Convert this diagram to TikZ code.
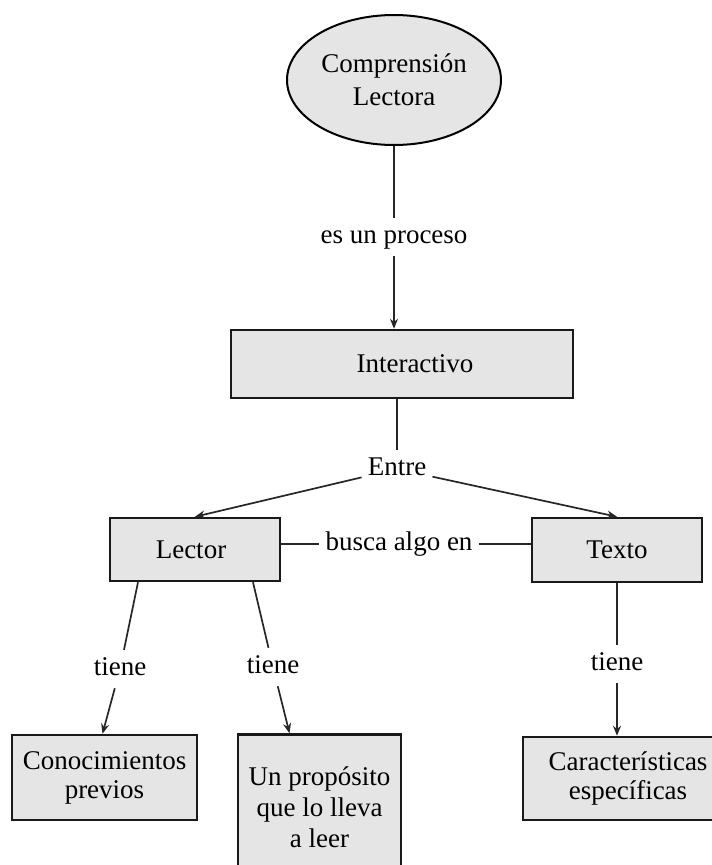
\documentclass[tikz,border=0pt]{standalone}
\usepackage{fontspec}
\setmainfont{Liberation Serif}
\usetikzlibrary{positioning,arrows.meta,shapes.geometric}

\begin{document}
\begin{tikzpicture}[
    x=1pt, y=-1pt,
    font=\fontsize{27}{29}\selectfont,
    ovalnode/.style={ellipse, draw=black, fill=black!10, line width=2pt, minimum width=214pt, minimum height=130pt, align=center, inner sep=0pt},
    boxnode/.style={rectangle, draw=black!90, fill=black!10, line width=2.5pt, align=center, inner sep=0pt},
    linknode/.style={inner sep=6pt, text height=19pt, text depth=7pt, anchor=base},
    link/.style={draw=black!85, line width=1.7pt},
    arrowlink/.style={link, -{Stealth[length=10pt, width=8pt]}}
    ]
        \clip (0,0) rectangle (712,865);
        %Nodes
        \node[ovalnode]
            (comp)  at (394,80)     {Comprensión\\[4pt]Lectora};
        \node[boxnode, minimum width=342pt, minimum height=68pt]
            (inter) at (402,364)    {\hspace*{26pt}Interactivo};
        \node[boxnode, minimum width=170pt, minimum height=63pt]
            (lector) at (195,549.5) {Lector\hspace*{8pt}};
        \node[boxnode, minimum width=170pt, minimum height=64pt]
            (texto) at (617,550)    {Texto};
        \node[boxnode, minimum width=185pt, minimum height=85pt]
            (conoc) at (104.5,777.5) {Conocimientos\\previos};
        \node[boxnode, minimum width=163pt, minimum height=145pt]
            (prop)  at (319.5,807)  {Un propósito\\[2pt]que lo lleva\\[2pt]a leer};
        \node[boxnode, minimum width=210pt, minimum height=83pt]
            (carac) at (628,778.5)  {Características\\específicas};

        %Labels
        \node[linknode] (proc)  at (394,243) {es un proceso};
        \node[linknode] (entre) at (397,475) {Entre};
        \node[linknode] (busca) at (399,550) {busca algo en};
        \node[linknode] (tA)    at (120,675) {tiene};
        \node[linknode] (tB)    at (273,673) {tiene};
        \node[linknode] (tC)    at (617,670) {tiene};

        %Lines
        \draw[link] (comp.south) -- (proc);
        \draw[arrowlink] (proc) -- (proc |- inter.north);
        \draw[link] (entre |- inter.south) -- (entre);
        \draw[arrowlink] (entre) -- (lector.north);
        \draw[arrowlink] (entre) -- (texto.north);
        \draw[link] (lector.east |- busca) -- (busca);
        \draw[link] (busca) -- (texto.west |- busca);
        \coordinate (lA) at ([xshift=-57pt]lector.south);
        \coordinate (lB) at ([xshift=58pt]lector.south);
        \draw[link] (lA) -- (tA);
        \draw[arrowlink] (tA) -- ([xshift=-2pt]conoc.north);
        \draw[link] (lB) -- (tB);
        \draw[arrowlink] (tB) -- ([xshift=-30pt]prop.north);
        \draw[link] (texto.south) -- (tC);
        \draw[arrowlink] (tC) -- (tC |- carac.north);
\end{tikzpicture}
\end{document}
